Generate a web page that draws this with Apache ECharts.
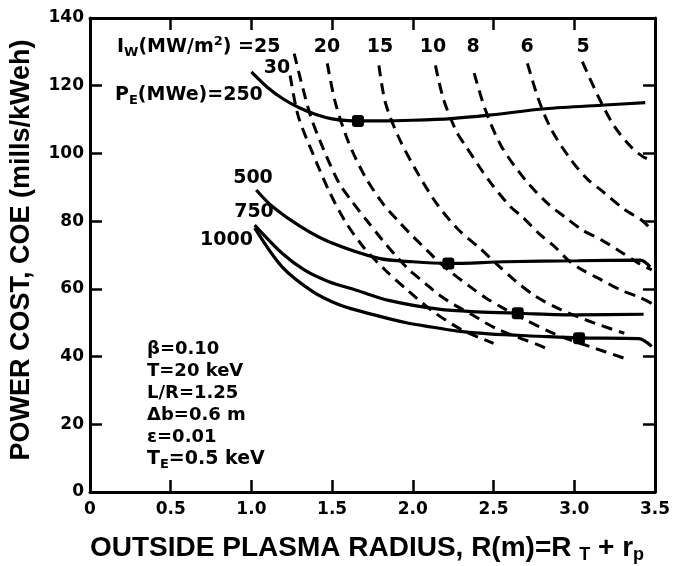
<!DOCTYPE html>
<html>
<head>
<meta charset="utf-8">
<script src="https://cdn.jsdelivr.net/npm/echarts@6/dist/echarts.min.js"></script>
<style>
  html, body { margin: 0; padding: 0; background: #fff; }
  #chart { width: 673px; height: 566px; }
</style>
</head>
<body>
<div id="chart"></div>
<script>
// ---- data ----
const xTickLabels = ["0", "0.5", "1.0", "1.5", "2.0", "2.5", "3.0", "3.5"];
const yTickValues = [0, 20, 40, 60, 80, 100, 120, 140];

// solid: constant electric power P_E (MWe)
const pe250 = [[1.0, 124.1], [1.1, 119.5], [1.2, 116], [1.3, 113.4], [1.4, 111.5], [1.5, 110.2],
  [1.6, 109.7], [1.8, 109.6], [2.0, 109.8], [2.24, 110.3], [2.47, 111.3], [2.82, 113.2],
  [3.19, 114.3], [3.44, 115.0]];
const pe500 = [[1.03, 89.2], [1.13, 84.3], [1.3, 78.5], [1.48, 73.9], [1.79, 69.0], [2.0, 68.0],
  [2.22, 67.5], [2.57, 68.0], [3.02, 68.3], [3.41, 68.5], [3.47, 66.5]];
const pe750 = [[1.02, 78.8], [1.19, 70.5], [1.33, 65.5], [1.48, 62.1], [1.65, 59.6], [1.85, 56.6],
  [2.16, 54.0], [2.4, 53.2], [2.65, 52.8], [3.02, 52.3], [3.43, 52.5]];
const pe1000 = [[1.02, 78.0], [1.19, 66.5], [1.38, 59.2], [1.54, 55.4], [1.69, 53.2], [1.85, 51.2],
  [1.96, 50.0], [2.08, 49.0], [2.28, 47.5], [2.47, 46.7], [2.78, 46.0], [3.03, 45.5],
  [3.40, 45.3], [3.48, 43.0]];

// dashed: constant wall load I_W (MW/m2)
const iw30 = [[1.24, 123], [1.29, 111], [1.38, 100], [1.48, 89], [1.58, 80], [1.70, 72],
  [1.83, 65.5], [1.97, 59.5], [2.12, 53.5], [2.30, 48], [2.50, 43.9]];
const iw25 = [[1.265, 129.5], [1.36, 112], [1.44, 102], [1.54, 91.5], [1.62, 86], [1.71, 80.5],
  [1.81, 74.5], [1.90, 69.5], [1.98, 65.5], [2.08, 61.5], [2.16, 58.3], [2.26, 55.2],
  [2.37, 52.3], [2.45, 50], [2.52, 48.2], [2.65, 45.7], [2.78, 43.4], [2.85, 41.9]];
const iw20 = [[1.47, 126.6], [1.52, 115], [1.60, 103.5], [1.70, 93.5], [1.81, 85.5], [1.91, 80],
  [2.0, 75.5], [2.09, 71.3], [2.16, 68], [2.24, 64.8], [2.35, 60.8], [2.45, 57.4],
  [2.56, 54.3], [2.70, 50.8], [2.84, 47.5], [2.97, 45], [3.1, 42.9], [3.31, 39.5]];
const iw15 = [[1.79, 126], [1.83, 115], [1.91, 105], [2.02, 95], [2.15, 85], [2.28, 77.6],
  [2.42, 71.8], [2.52, 67.3], [2.63, 62.6], [2.76, 57.8], [2.92, 53.8], [3.13, 49.8],
  [3.31, 46.9]];
const iw10 = [[2.14, 126], [2.19, 116], [2.27, 106.5], [2.33, 102], [2.47, 92.1], [2.60, 84.5],
  [2.68, 81.2], [2.78, 76.4], [2.88, 72.4], [2.96, 68.6], [3.05, 65.6], [3.17, 62.6],
  [3.29, 59.6], [3.40, 57.6], [3.48, 55.7]];
const iw8 = [[2.38, 123.7], [2.45, 112.8], [2.55, 102], [2.70, 92], [2.84, 85], [2.94, 81.3],
  [3.05, 77.4], [3.17, 74.4], [3.27, 71.5], [3.40, 67.5], [3.48, 65.6]];
const iw6 = [[2.71, 126.6], [2.78, 115.8], [2.86, 106.9], [2.98, 98.1], [3.08, 92.5], [3.17, 89],
  [3.31, 83.5], [3.42, 80.2], [3.48, 77.4]];
const iw5 = [[3.05, 127.1], [3.15, 116.7], [3.25, 107.9], [3.36, 101.5], [3.42, 99.2], [3.45, 98.5]];

// design points (filled squares)
const designPoints = [[1.66, 109.6], [2.22, 67.5], [2.65, 52.8], [3.03, 45.4]];

// ---- chart ----
const chart = echarts.init(document.getElementById("chart"), null, { renderer: "canvas" });

const tickFont = { color: "#000", fontFamily: "DejaVu Sans", fontWeight: "bold", fontSize: 17 };
const axisLine = { onZero: false, lineStyle: { color: "#000", width: 3 } };
const axisTick = { inside: true, length: 12, lineStyle: { color: "#000", width: 2.5 } };

function solid(data) {
  return {
    type: "line", data: data, showSymbol: false, smooth: 0.3, silent: true,
    lineStyle: { color: "#000", width: 3.2 }
  };
}
function dashed(data) {
  return {
    type: "line", data: data, showSymbol: false, smooth: 0.3, silent: true,
    lineStyle: { color: "#000", width: 3, type: [11, 7] }
  };
}

const annFont = "DejaVu Sans";
const rich19 = {
  m: { fontSize: 19, fontFamily: annFont, fontWeight: "bold", lineHeight: 24, fill: "#000", color: "#000" },
  sub: { fontSize: 13, fontFamily: annFont, fontWeight: "bold", lineHeight: 12, verticalAlign: "bottom", fill: "#000", color: "#000" },
  sup: { fontSize: 13, fontFamily: annFont, fontWeight: "bold", lineHeight: 12, verticalAlign: "top", fill: "#000", color: "#000" }
};

function txt(x, y, text, align, size, extra) {
  return Object.assign({
    type: "text", x: x, y: y, silent: true,
    style: {
      text: text, fill: "#000",
      font: "bold " + (size || 19) + "px " + annFont,
      align: align || "center", textAlign: align || "center",
      verticalAlign: "middle", textVerticalAlign: "middle"
    }
  }, extra || {});
}
function richTxt(x, y, text, align, rich, extra) {
  const el = txt(x, y, text, align, 19, extra);
  el.style.rich = rich;
  return el;
}

const paramLines = ["β=0.10", "T=20 keV", "L/R=1.25", "Δb=0.6 m", "ε=0.01"];

const graphics = [
  richTxt(117, 47, "{m|I}{sub|W}{m|(MW/m}{sup|2}{m|) =25}", "left", rich19),
  txt(277, 68, "30"), txt(327, 47, "20"), txt(380, 47, "15"), txt(433, 47, "10"),
  txt(473, 47, "8"), txt(527, 47, "6"), txt(583, 47, "5"),
  richTxt(115, 95, "{m|P}{sub|E}{m|(MWe)=250}", "left", rich19),
  txt(253, 178, "500"), txt(254, 212, "750"), txt(253, 240, "1000", "right"),
  richTxt(147, 459, "{m|T}{sub|E}{m|=0.5 keV}", "left", rich19),
  // axis titles
  {
    type: "text", x: 22, y: 250, rotation: Math.PI / 2, silent: true,
    style: {
      text: "POWER COST, COE (mills/kWeh)", fill: "#000",
      font: 'bold 27px "Liberation Sans"',
      align: "center", textAlign: "center", verticalAlign: "middle", textVerticalAlign: "middle"
    }
  },
  {
    type: "text", x: 90, y: 548, silent: true,
    style: {
      text: "{t|OUTSIDE PLASMA RADIUS, R(m)=R }{s|T}{t| + r}{s|p}", fill: "#000",
      align: "left", textAlign: "left", verticalAlign: "middle", textVerticalAlign: "middle",
      rich: {
        t: { fontSize: 28, fontFamily: "Liberation Sans", fontWeight: "bold", lineHeight: 32, fill: "#000", color: "#000" },
        s: { fontSize: 18, fontFamily: "Liberation Sans", fontWeight: "bold", lineHeight: 16, verticalAlign: "bottom", fill: "#000", color: "#000" }
      }
    }
  }
];
paramLines.forEach(function (s, i) {
  graphics.push(txt(147, 349 + i * 22, s, "left", 18));
});

const option = {
  backgroundColor: "#fff",
  animation: false,
  grid: { left: 90, right: 14, top: 18, bottom: 74 },
  xAxis: [
    {
      type: "value", min: 0, max: 3.5, interval: 0.5,
      axisLine: axisLine, axisTick: axisTick, splitLine: { show: false },
      axisLabel: Object.assign({ margin: 9, formatter: (v) => xTickLabels[Math.round(v / 0.5)] }, tickFont)
    },
    {
      type: "value", position: "top", min: 0, max: 3.5, interval: 0.5,
      axisLine: axisLine, axisTick: axisTick, splitLine: { show: false },
      axisLabel: { show: false }
    }
  ],
  yAxis: [
    {
      type: "value", min: yTickValues[0], max: yTickValues[yTickValues.length - 1], interval: 20,
      axisLine: axisLine, axisTick: axisTick, splitLine: { show: false },
      axisLabel: Object.assign({ margin: 6 }, tickFont)
    },
    {
      type: "value", position: "right", min: 0, max: 140, interval: 20,
      axisLine: axisLine, axisTick: axisTick, splitLine: { show: false },
      axisLabel: { show: false }
    }
  ],
  series: [
    solid(pe250), solid(pe500), solid(pe750), solid(pe1000),
    dashed(iw30), dashed(iw25), dashed(iw20), dashed(iw15),
    dashed(iw10), dashed(iw8), dashed(iw6), dashed(iw5),
    {
      type: "scatter", data: designPoints, symbol: "roundRect", symbolSize: 12,
      itemStyle: { color: "#000", opacity: 1 }, silent: true, z: 5
    }
  ],
  graphic: graphics
};

chart.setOption(option);
</script>
</body>
</html>
